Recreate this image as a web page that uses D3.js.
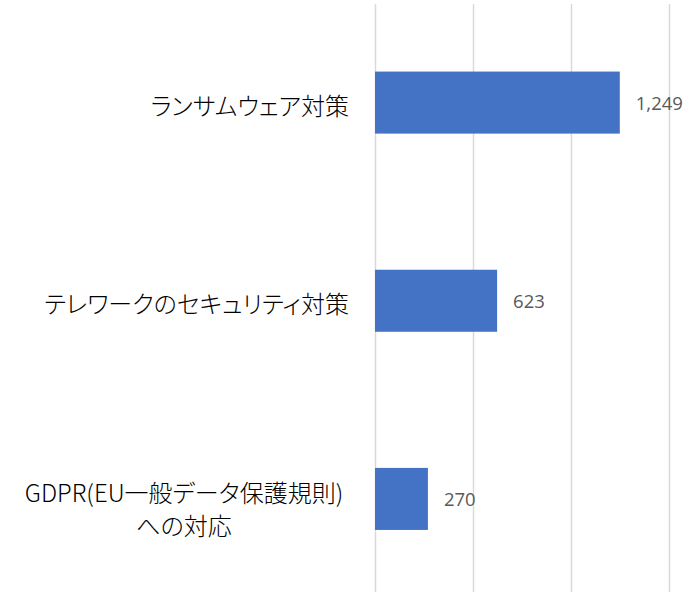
<!DOCTYPE html>
<html>
<head>
<meta charset="utf-8">
<script src="https://cdn.jsdelivr.net/npm/d3@7"></script>
<style>
  html, body { margin: 0; padding: 0; background: #fff; }
  svg { display: block; }
</style>
</head>
<body>
<svg id="chart" width="689" height="592"></svg>
<script>
// Survey counts by security topic
const categories = [
  "ランサムウェア対策",
  "テレワークのセキュリティ対策",
  "GDPR(EU一般データ保護規則)\nへの対応"
];
const values = [1249, 623, 270];
const tickValues = [0, 500, 1000, 1500];

const W = 689, H = 592;
const svg = d3.select("#chart");

const x = d3.scaleLinear().domain([0, 1500]).range([375, 669]);
const y = d3.scaleBand()
  .domain(categories)
  .range([3.5, 598])
  .paddingInner(0.687)
  .paddingOuter(0.3435);

// vertical gridlines
const grid = svg.append("g")
  .attr("transform", `translate(0,${4})`)
  .call(d3.axisBottom(x).tickValues(tickValues).tickSize(H).tickFormat(""));
grid.select(".domain").remove();
grid.selectAll(".tick line").attr("stroke", "#d9d9d9").attr("stroke-width", 1.5);

// bars
svg.append("g").selectAll("rect")
  .data(values)
  .join("rect")
  .attr("x", x(0))
  .attr("y", (d, i) => y(categories[i]))
  .attr("width", d => x(d) - x(0))
  .attr("height", y.bandwidth())
  .attr("fill", "#4472c4");

// value labels
const fmt = d3.format(",");
svg.append("g").selectAll("text")
  .data(values)
  .join("text")
  .attr("x", d => x(d) + 16)
  .attr("y", (d, i) => y(categories[i]) + y.bandwidth() / 2)
  .attr("dominant-baseline", "central")
  .attr("font-family", "'Open Sans', 'Noto Sans', sans-serif")
  .attr("font-size", 18.5)
  .attr("fill", "#595959")
  .text(d => fmt(d));

// category labels
const catG = svg.append("g")
  .attr("font-family", "'Noto Sans CJK JP', sans-serif")
  .attr("font-size", 24)
  .attr("font-weight", 300)
  .style("font-feature-settings", "'palt' 1")
  .attr("fill", "#000");

categories.forEach(c => {
  const lines = c.split("\n");
  const cy = y(c) + y.bandwidth() / 2;
  if (lines.length === 1) {
    catG.append("text")
      .attr("x", 349)
      .attr("y", cy + 2)
      .attr("dominant-baseline", "central")
      .attr("text-anchor", "end")
      .text(lines[0]);
  } else {
    const lh = 33;
    lines.forEach((ln, j) => {
      catG.append("text")
        .attr("x", 184)
        .attr("y", cy + 9 + (j - (lines.length - 1) / 2) * lh)
        .attr("dominant-baseline", "central")
        .attr("text-anchor", "middle")
        .text(ln);
    });
  }
});
</script>
</body>
</html>
